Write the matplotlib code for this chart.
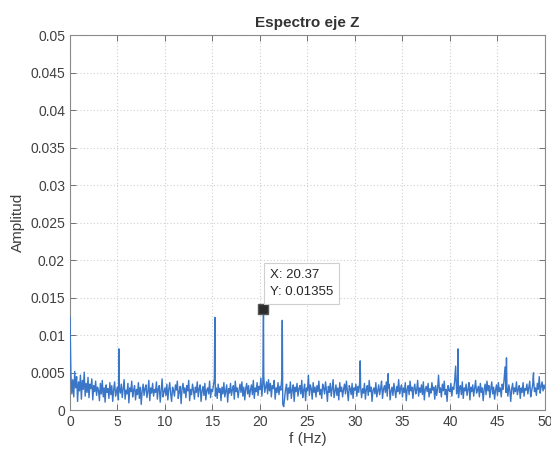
import numpy as np
import matplotlib.pyplot as plt

plt.rcParams['font.family'] = ['Liberation Sans', 'DejaVu Sans']

# noise floor, 0.1 Hz steps, in units of 1e-4
noise = [
    124, 48, 22, 41, 18, 52, 30, 45, 12, 38,
    26, 47, 15, 40, 28, 51, 19, 36, 24, 44,
    17, 35, 29, 42, 14, 33, 25, 39, 20, 31,
    27, 13, 36, 22, 40, 18, 30, 11, 34, 24,
    29, 16, 37, 21, 33, 12, 28, 38, 19, 26,
    31, 14, 30, 23, 35, 17, 29, 41, 15, 27,
    22, 36, 10, 30, 25, 39, 18, 27, 33, 14,
    28, 21, 37, 16, 31, 8, 26, 35, 20, 29,
    34, 17, 25, 40, 13, 30, 23, 36, 19, 28,
    24, 38, 15, 29, 33, 11, 27, 42, 18, 25,
    30, 20, 35, 14, 28, 37, 22, 12, 31, 26,
    19, 34, 27, 39, 16, 25, 32, 9, 29, 36,
    23, 30, 17, 33, 26, 40, 13, 28, 21, 35,
    27, 15, 31, 24, 38, 18, 29, 34, 12, 26,
    32, 20, 36, 14, 27, 30, 22, 39, 17, 28,
    25, 33, 42, 19, 30, 16, 35, 24, 29, 13,
    31, 22, 37, 18, 26, 34, 11, 29, 23, 36,
    20, 28, 33, 15, 39, 25, 30, 17, 27, 35,
    24, 38, 19, 31, 14, 29, 36, 22, 33, 18,
    27, 34, 21, 40, 16, 30, 25, 37, 20, 32,
    28, 43, 19, 35, 46, 24, 31, 38, 22, 41,
    26, 36, 18, 33, 29, 40, 15, 30, 24, 37,
    21, 32, 27, 44, 8, 5, 17, 29, 35, 14,
    30, 23, 38, 16, 28, 34, 12, 31, 25, 36,
    19, 29, 33, 22, 40, 17, 27, 35, 13, 30,
    26, 47, 20, 34, 29, 15, 37, 24, 31, 18,
    33, 25, 39, 21, 28, 16, 35, 30, 22, 38,
    27, 12, 32, 24, 36, 19, 29, 41, 17, 26,
    34, 20, 30, 14, 37, 25, 31, 18, 28, 35,
    22, 39, 26, 13, 33, 29, 21, 36, 16, 30,
    27, 35, 19, 32, 24, 38, 30, 17, 29, 23,
    36, 15, 28, 33, 20, 40, 25, 31, 12, 27,
    30, 22, 37, 18, 26, 34, 21, 29, 39, 16,
    28, 33, 24, 38, 19, 30, 35, 14, 26, 31,
    20, 36, 27, 17, 32, 25, 41, 22, 29, 34,
    18, 30, 24, 37, 13, 28, 33, 21, 39, 26,
    31, 16, 29, 35, 22, 27, 40, 19, 30, 24,
    34, 21, 38, 14, 28, 32, 25, 36, 18, 29,
    23, 37, 27, 31, 15, 33, 20, 29, 47, 24,
    30, 18, 35, 26, 39, 21, 28, 12, 33, 27,
    25, 36, 19, 31, 28, 40, 59, 22, 34, 17,
    29, 33, 21, 38, 16, 30, 26, 35, 20, 28,
    37, 14, 31, 25, 34, 19, 29, 40, 23, 27,
    32, 18, 36, 24, 30, 13, 28, 35, 21, 39,
    26, 33, 17, 29, 38, 22, 31, 15, 27, 34,
    20, 37, 25, 30, 18, 35, 28, 41, 58, 24,
    31, 19, 34, 27, 12, 29, 36, 22, 30, 25,
    38, 21, 28, 33, 16, 30, 24, 37, 19, 29,
    27, 35, 22, 31, 39, 18, 26, 33, 42, 25,
    30, 20, 36, 28, 45, 23, 32, 38, 26, 34,
    29,
]

# spectral peaks
peak_f = [5.15, 15.25, 20.37, 22.35, 30.55, 33.5, 40.85, 45.95, 48.8]
peak_a = [0.0082, 0.0124, 0.01355, 0.0120, 0.0066, 0.0049, 0.0082, 0.0070, 0.0050]

tip_x = 20.37
tip_y = 0.01355

f = np.concatenate([np.arange(len(noise)) * 0.1, peak_f])
a = np.concatenate([np.array(noise) * 1e-4, peak_a])
order = np.argsort(f)
f, a = f[order], a[order]

fig = plt.figure(figsize=(5.51, 4.55), dpi=100)
ax = fig.add_axes([0.127, 0.098, 0.862, 0.825])

ax.plot(f, a, color='#3a76c8', lw=1.0, zorder=3)
ax.plot([tip_x], [tip_y], 's', color='#2b2b2b', ms=6.5, mec='#555555', zorder=4)
ax.text(21.05, 0.0150, f'X: {tip_x}\nY: {tip_y}', fontsize=9.5, color='#262626',
        ha='left', va='bottom', linespacing=1.5, zorder=5,
        bbox=dict(boxstyle='square,pad=0.45', fc='white', ec='#cfcfcf', lw=0.8))

ax.set_xlim(0, 50)
ax.set_ylim(0, 0.05)
ax.set_xticks(np.arange(0, 51, 5))
yt = np.arange(0, 0.0501, 0.005)
ax.set_yticks(yt)
ax.set_yticklabels(['0', '0.005', '0.01', '0.015', '0.02', '0.025', '0.03',
                    '0.035', '0.04', '0.045', '0.05'])

ax.grid(True, color='#cfcfcf', ls=(0, (1, 2)), lw=0.8)
ax.tick_params(direction='in', top=True, right=True, length=4, width=0.7,
               colors='#707070', labelcolor='#404040', labelsize=10)
for s in ax.spines.values():
    s.set_color('#8a8a8a')
    s.set_linewidth(0.8)

ax.set_title('Espectro eje Z', fontsize=11, fontweight='bold', color='#333333', pad=6)
ax.set_xlabel('f (Hz)', fontsize=11, color='#404040', labelpad=2)
ax.set_ylabel('Amplitud', fontsize=11, color='#404040', labelpad=4)

fig.savefig('out.png', dpi=100)
